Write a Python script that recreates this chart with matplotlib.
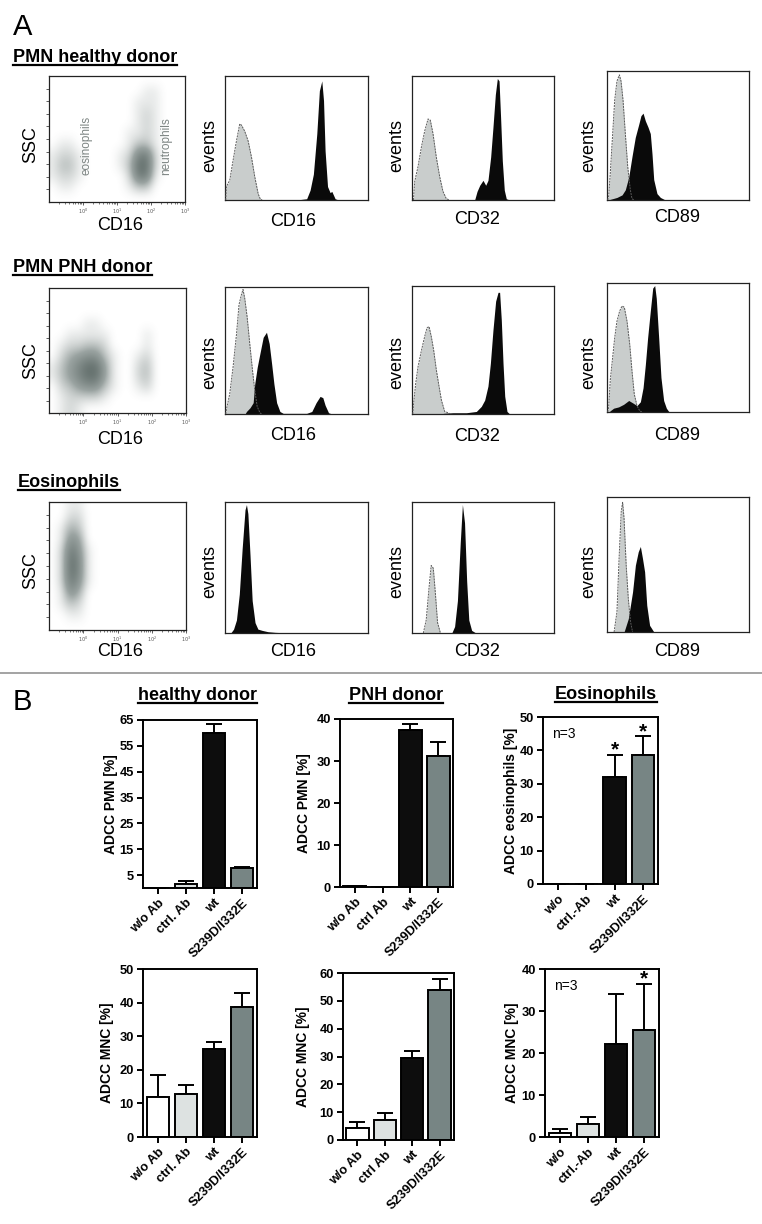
import matplotlib
matplotlib.use('Agg')
import matplotlib.pyplot as plt
import numpy as np
from matplotlib.colors import LinearSegmentedColormap
from matplotlib.lines import Line2D

plt.rcParams['font.family'] = ['Liberation Sans', 'DejaVu Sans']

# ---------------- DATA ----------------
# Panel A: flow cytometry density grids (rows top->bottom, cols = quarter decades from 10^-1 to 10^3)
scatter_healthy = [
    [0, 0, 0, 0, 0, 0, 0, 0, 0, 0, 0, 0, 0, 0, 0, 0],
    [0, 0, 0, 0, 0, 0, 0, 0, 0, 0, 0, 1, 1, 0, 0, 0],
    [0, 0, 0, 0, 0, 0, 0, 0, 0, 0, 1, 1, 1, 0, 0, 0],
    [0, 0, 0, 0, 0, 0, 0, 0, 0, 0, 1, 2, 1, 0, 0, 0],
    [0, 0, 0, 0, 0, 0, 0, 0, 0, 0, 1, 2, 1, 0, 0, 0],
    [0, 0, 0, 0, 0, 0, 0, 0, 0, 1, 1, 2, 1, 0, 0, 0],
    [0, 1, 1, 0, 0, 0, 0, 0, 0, 1, 3, 3, 1, 0, 0, 0],
    [1, 2, 2, 1, 0, 0, 0, 0, 1, 2, 7, 8, 2, 0, 0, 0],
    [1, 3, 3, 1, 0, 0, 0, 0, 1, 3, 9, 9, 2, 0, 0, 0],
    [1, 2, 2, 1, 0, 0, 0, 0, 0, 2, 8, 8, 1, 0, 0, 0],
    [0, 1, 1, 0, 0, 0, 0, 0, 0, 1, 3, 3, 0, 0, 0, 0],
    [0, 0, 0, 0, 0, 0, 0, 0, 0, 0, 0, 0, 0, 0, 0, 0],
]
scatter_pnh = [
    [0, 0, 0, 0, 0, 0, 0, 0, 0, 0, 0, 0, 0, 0, 0, 0],
    [0, 0, 0, 0, 0, 0, 0, 0, 0, 0, 0, 0, 0, 0, 0, 0],
    [0, 0, 0, 0, 0, 0, 0, 0, 0, 0, 0, 0, 0, 0, 0, 0],
    [0, 0, 0, 0, 1, 1, 0, 0, 0, 0, 0, 0, 0, 0, 0, 0],
    [0, 0, 1, 1, 1, 1, 1, 0, 0, 0, 0, 1, 0, 0, 0, 0],
    [0, 1, 2, 2, 3, 3, 2, 0, 0, 0, 0, 1, 0, 0, 0, 0],
    [0, 2, 4, 5, 6, 6, 3, 1, 0, 0, 1, 2, 0, 0, 0, 0],
    [1, 3, 5, 7, 9, 9, 5, 1, 0, 0, 2, 3, 0, 0, 0, 0],
    [1, 3, 5, 7, 9, 9, 5, 1, 0, 0, 2, 3, 0, 0, 0, 0],
    [0, 2, 3, 5, 6, 6, 3, 1, 0, 0, 1, 2, 0, 0, 0, 0],
    [0, 1, 2, 2, 2, 2, 1, 0, 0, 0, 0, 0, 0, 0, 0, 0],
    [0, 1, 2, 1, 0, 0, 0, 0, 0, 0, 0, 0, 0, 0, 0, 0],
]
scatter_eos = [
    [0, 0, 1, 1, 0, 0, 0, 0, 0, 0, 0, 0, 0, 0, 0, 0],
    [0, 0, 2, 2, 0, 0, 0, 0, 0, 0, 0, 0, 0, 0, 0, 0],
    [0, 1, 4, 3, 0, 0, 0, 0, 0, 0, 0, 0, 0, 0, 0, 0],
    [0, 1, 6, 5, 0, 0, 0, 0, 0, 0, 0, 0, 0, 0, 0, 0],
    [0, 2, 8, 6, 1, 0, 0, 0, 0, 0, 0, 0, 0, 0, 0, 0],
    [0, 2, 9, 7, 1, 0, 0, 0, 0, 0, 0, 0, 0, 0, 0, 0],
    [0, 2, 9, 7, 1, 0, 0, 0, 0, 0, 0, 0, 0, 0, 0, 0],
    [0, 2, 8, 6, 1, 0, 0, 0, 0, 0, 0, 0, 0, 0, 0, 0],
    [0, 1, 6, 4, 0, 0, 0, 0, 0, 0, 0, 0, 0, 0, 0, 0],
    [0, 1, 3, 2, 0, 0, 0, 0, 0, 0, 0, 0, 0, 0, 0, 0],
    [0, 0, 1, 1, 0, 0, 0, 0, 0, 0, 0, 0, 0, 0, 0, 0],
    [0, 0, 0, 0, 0, 0, 0, 0, 0, 0, 0, 0, 0, 0, 0, 0],
]

# Histograms: x = % of axis width, y = % of axis height
# Row 1 (healthy donor)
h1_cd16_iso_x = [0.5, 1, 3.3, 5.6, 8, 10.3, 11.5, 13.8, 16.2, 18.5, 20.8, 23.2, 24.8, 26]
h1_cd16_iso_y = [0, 11, 16, 32, 48, 62, 61, 56, 48, 35, 19, 5, 0.5, 0]
h1_cd16_x = [50, 57.1, 59.5, 61.8, 64.2, 66, 67.7, 68.9, 70, 71.7, 73.5, 74.7, 77, 79.4]
h1_cd16_y = [0, 1, 8, 21, 54, 89, 97, 81, 40, 11, 6, 7, 1, 0]
h1_cd32_iso_x = [1, 1.9, 4.2, 6.6, 8.9, 11.3, 12.9, 14.8, 17.1, 19.5, 21.8, 24.2, 26.5]
h1_cd32_iso_y = [0, 15, 27, 43, 56, 66, 65, 54, 35, 19, 7, 1, 0]
h1_cd32_x = [44.1, 45.8, 47.7, 50, 51.9, 53.5, 55.4, 57, 58.7, 60.1, 61.3, 62.4, 63.6, 65, 66.4, 68.8]
h1_cd32_y = [0, 7, 12, 16, 12, 16, 35, 59, 86, 99, 97, 67, 32, 8, 1, 0]
h1_cd89_iso_x = [0.5, 1.2, 2.3, 4, 5.4, 7, 8.7, 9.9, 11.3, 12.9, 14.6, 16.4, 17.6, 19]
h1_cd89_iso_y = [0, 3, 21, 52, 78, 93, 98, 93, 78, 52, 26, 8, 1, 0]
h1_cd89_x = [1, 2.3, 7, 10.6, 12.9, 15.3, 17.6, 19.9, 22.3, 23.9, 25.4, 27, 28.9, 30.5, 31.7, 32.9, 35.2, 37.6, 41.1]
h1_cd89_y = [0, 0.5, 2, 4, 8, 18, 34, 49, 59, 66, 68, 62, 57, 52, 36, 16, 5, 2, 0]
# Row 2 (PNH donor)
h2_cd16_iso_x = [0.5, 0.9, 3.3, 5.6, 8, 9.8, 11.5, 12.6, 13.8, 15.5, 17.3, 19.2, 20.8, 22.5, 24.4, 25.5]
h2_cd16_iso_y = [0, 3, 16, 37, 63, 87, 95, 99, 92, 77, 56, 35, 19, 6, 1, 0]
h2_cd16_x = [14, 15, 17.5, 19.7, 20.8, 22.5, 24.4, 26.7, 29, 30.9, 32.6, 34.2, 36.1, 38.4, 40.7,
             57.1, 60.7, 63.7, 66.5, 68.4, 70, 72.4, 74.7]
h2_cd16_y = [0, 2, 5, 9, 24, 37, 48, 61, 65, 56, 40, 24, 9, 2, 0.5,
             0.5, 2, 9, 14, 13, 7, 1, 0]
h2_cd32_iso_x = [0.5, 1.2, 2.6, 4.2, 6.6, 8.9, 10.6, 12, 13.6, 15.3, 17.1, 19, 20.7, 23, 25.4, 27]
h2_cd32_iso_y = [0, 9, 24, 37, 50, 61, 68, 69, 61, 50, 35, 22, 11, 2, 1, 0]
h2_cd32_x = [22, 28.9, 38.3, 45.3, 48.8, 51.2, 53.5, 55.2, 57, 58.9, 60.6, 61.7, 62.9, 64.1, 65.3, 66.9, 68.8]
h2_cd32_y = [0.5, 1, 1, 2, 6, 11, 22, 40, 66, 89, 96, 96, 74, 40, 14, 2, 0]
h2_cd89_iso_x = [0.5, 1.2, 2.3, 4, 5.4, 7, 8.9, 10.6, 12.2, 14.1, 16, 17.6, 19.2, 21.1, 23, 24.5]
h2_cd89_iso_y = [0, 4, 25, 43, 58, 71, 79, 83, 82, 71, 53, 32, 14, 5, 1, 0]
h2_cd89_x = [1.5, 2.3, 4.7, 8.2, 11.7, 15.3, 18.3, 21.1, 23.5, 25.4, 27, 28.6, 30.5, 32.2, 33.6, 34.7,
             36.4, 38, 39.9, 41.8, 43.4, 45.8]
h2_cd89_y = [0, 1, 3, 4, 6, 9, 7, 5, 8, 19, 37, 58, 79, 97, 99, 89, 58, 27, 9, 3, 0.5, 0]
# Row 3 (eosinophils)
h3_cd16_x = [4, 6, 8, 10, 12, 14, 15, 16, 17.5, 19, 21, 23, 26, 30, 35, 45]
h3_cd16_y = [0, 3, 10, 30, 65, 95, 99, 92, 60, 25, 8, 3, 2, 1, 0.5, 0]
h3_cd32_iso_x = [8, 10, 12, 13.5, 15, 16.5, 18, 20]
h3_cd32_iso_y = [0, 10, 35, 52, 50, 30, 8, 0]
h3_cd32_x = [28, 30, 32, 34, 35.5, 37, 38.5, 40, 42, 45]
h3_cd32_y = [0, 5, 25, 70, 99, 85, 40, 10, 2, 0]
h3_cd89_iso_x = [5, 7, 8.5, 10, 11, 12, 13.5, 15, 16.5, 18]
h3_cd89_iso_y = [0, 15, 55, 90, 97, 85, 50, 25, 8, 0]
h3_cd89_x = [12, 15, 18, 20, 22, 23.5, 25, 26.5, 28, 30, 33]
h3_cd89_y = [0, 10, 30, 50, 60, 64, 55, 45, 20, 5, 0]

# Panel B: ADCC bars
labels_hd = ['w/o Ab', 'ctrl. Ab', 'wt', 'S239D/I332E']
labels_pnh = ['w/o Ab', 'ctrl Ab', 'wt', 'S239D/I332E']
labels_eos = ['w/o', 'ctrl.-Ab', 'wt', 'S239D/I332E']
pmn_hd = [0, 1.7, 60.0, 7.8]
pmn_hd_err = [0, 0.9, 3.6, 0.4]
pmn_pnh = [0.2, 0, 37.3, 31.3]
pmn_pnh_err = [0.1, 0, 1.6, 3.2]
pmn_eos = [0, 0, 32.1, 38.6]
pmn_eos_err = [0, 0, 6.5, 5.6]
mnc_hd = [12.0, 12.9, 26.1, 38.6]
mnc_hd_err = [6.6, 2.5, 2.2, 4.4]
mnc_pnh = [4.2, 7.2, 29.4, 53.8]
mnc_pnh_err = [2.3, 2.4, 2.4, 4.0]
mnc_eos = [0.95, 3.0, 22.1, 25.4]
mnc_eos_err = [1.0, 1.8, 11.9, 11.0]

bar_colors = ['#ffffff', '#dde2e1', '#0d0d0d', '#778584']

# ---------------- FIGURE ----------------
W, H = 762, 1224
fig = plt.figure(figsize=(W / 100, H / 100), dpi=100)


def add_ax(l, t, r, b):
    return fig.add_axes([l / W, 1 - b / H, (r - l) / W, (b - t) / H])


def ftext(x, y, s, **kw):
    return fig.text(x / W, 1 - y / H, s, **kw)


underlined = []


def title_u(x, y_base, s, ha='left', size=13):
    t = ftext(x, y_base, s, ha=ha, va='baseline', fontsize=size, fontweight='bold')
    underlined.append((t, y_base + 2.5))
    return t


dens_cmap = LinearSegmentedColormap.from_list('dens', ['#ffffff', '#9aa3a1', '#66726f'])


def scatter_panel(ax, grid):
    ax.imshow(np.array(grid, dtype=float), cmap=dens_cmap, vmin=0, vmax=9,
              extent=[-1, 3, 0, 100], aspect='auto', interpolation='bicubic', origin='upper')
    ax.set_xlim(-1, 3)
    ax.set_ylim(0, 100)
    ax.set_xticks([0, 1, 2, 3])
    ax.set_xticklabels([r'$10^0$', r'$10^1$', r'$10^2$', r'$10^3$'], fontsize=3.5, color='#555555')
    minor = [np.log10(k) + d for d in range(-1, 3) for k in range(2, 10)]
    ax.set_xticks(minor, minor=True)
    ax.set_yticks(np.arange(10, 100, 10))
    ax.set_yticklabels([])
    ax.tick_params(which='major', direction='out', length=2.5, width=0.6, color='#444444', pad=1)
    ax.tick_params(which='minor', direction='out', length=1.5, width=0.5, color='#444444')
    for s in ax.spines.values():
        s.set_linewidth(0.9)
        s.set_color('#222222')


def hist_panel(ax, iso_x, iso_y, x, y):
    if iso_x is not None:
        ax.fill_between(iso_x, iso_y, 0, color='#c9cdcc', lw=0, zorder=1)
    ax.fill_between(x, y, 0, color='#0a0a0a', lw=0, zorder=2)
    if iso_x is not None:
        ax.plot(iso_x, iso_y, color='#5a5a5a', lw=0.7, ls=(0, (2, 1)), zorder=3)
    ax.set_xlim(0, 100)
    ax.set_ylim(0, 101)
    ax.set_xticks([])
    ax.set_yticks([])
    for s in ax.spines.values():
        s.set_linewidth(0.9)
        s.set_color('#222222')


# Panel A labels
ftext(13, 35, 'A', fontsize=21, va='baseline', ha='left')
title_u(13, 62, 'PMN healthy donor')
title_u(13, 272, 'PMN PNH donor')
title_u(18, 487, 'Eosinophils')

rows = [
    dict(sc=(49, 76, 185, 202), h=[(225, 76, 368, 200), (412, 76, 554, 200), (607, 71, 749, 200)],
         grid=scatter_healthy,
         hist=[(h1_cd16_iso_x, h1_cd16_iso_y, h1_cd16_x, h1_cd16_y),
               (h1_cd32_iso_x, h1_cd32_iso_y, h1_cd32_x, h1_cd32_y),
               (h1_cd89_iso_x, h1_cd89_iso_y, h1_cd89_x, h1_cd89_y)],
         lab_y=[225, 221, 220, 217], ylab_y=145),
    dict(sc=(49, 288, 186, 413), h=[(225, 287, 368, 414), (412, 286, 554, 414), (607, 283, 749, 412)],
         grid=scatter_pnh,
         hist=[(h2_cd16_iso_x, h2_cd16_iso_y, h2_cd16_x, h2_cd16_y),
               (h2_cd32_iso_x, h2_cd32_iso_y, h2_cd32_x, h2_cd32_y),
               (h2_cd89_iso_x, h2_cd89_iso_y, h2_cd89_x, h2_cd89_y)],
         lab_y=[439, 435, 436, 435], ylab_y=361),
    dict(sc=(49, 502, 186, 630), h=[(225, 502, 368, 633), (412, 502, 554, 633), (607, 497, 749, 632)],
         grid=scatter_eos,
         hist=[(None, None, h3_cd16_x, h3_cd16_y),
               (h3_cd32_iso_x, h3_cd32_iso_y, h3_cd32_x, h3_cd32_y),
               (h3_cd89_iso_x, h3_cd89_iso_y, h3_cd89_x, h3_cd89_y)],
         lab_y=[652, 652, 651, 651], ylab_y=571),
]
hist_names = ['CD16', 'CD32', 'CD89']
hist_lab_x = [293, 477, 677]
hist_ev_x = [210, 397, 589]

for i, r in enumerate(rows):
    ax = add_ax(*r['sc'])
    scatter_panel(ax, r['grid'])
    if i == 0:
        ax.text(0.09, 45, 'eosinophils', rotation=90, ha='center', va='center', fontsize=8.5, color='#7d8583')
        ax.text(2.44, 44, 'neutrophils', rotation=90, ha='center', va='center', fontsize=8.5, color='#7d8583')
    ftext(31, r['ylab_y'], 'SSC', rotation=90, ha='center', va='center', fontsize=13)
    ftext(120, r['lab_y'][0], 'CD16', ha='center', va='center', fontsize=13)
    for j in range(3):
        hax = add_ax(*r['h'][j])
        hist_panel(hax, *r['hist'][j])
        ftext(hist_ev_x[j], r['ylab_y'] + 1, 'events', rotation=90, ha='center', va='center', fontsize=13)
        ftext(hist_lab_x[j], r['lab_y'][j + 1], hist_names[j], ha='center', va='center', fontsize=13)

# separator
fig.add_artist(Line2D([0, 1], [1 - 673 / H] * 2, transform=fig.transFigure, color='#8a8a8a', lw=1.1))

# Panel B
ftext(13, 710, 'B', fontsize=21, va='baseline', ha='left')
title_u(197, 700, 'healthy donor', ha='center')
title_u(396, 700, 'PNH donor', ha='center')
title_u(606, 699, 'Eosinophils', ha='center')


def bar_panel(box, labels, vals, errs, ylim, yticks, ylabel, ylab_x, n3=False, stars=()):
    ax = add_ax(*box)
    x = np.arange(len(vals))
    ax.errorbar(x, vals, yerr=[np.zeros(len(vals)), errs], fmt='none', ecolor='black',
                elinewidth=1.4, capsize=5.5, capthick=1.4, zorder=1)
    ax.bar(x, vals, width=0.81, color=bar_colors, edgecolor='black', linewidth=1.4, zorder=2)
    ax.set_xlim(-0.53, 3.53)
    ax.set_ylim(*ylim)
    ax.set_yticks(yticks)
    ax.set_xticks(x)
    ax.set_xticklabels(labels, rotation=45, ha='right', rotation_mode='anchor')
    ax.tick_params(axis='both', direction='out', length=4.5, width=1.4, labelsize=9.3, pad=2)
    for lbl in ax.get_xticklabels() + ax.get_yticklabels():
        lbl.set_fontweight('bold')
    for s in ax.spines.values():
        s.set_linewidth(1.4)
    l, t, rr, b = box
    ax.set_ylabel(ylabel, fontsize=10, fontweight='bold')
    ax.yaxis.label.set_verticalalignment('center')
    ax.yaxis.set_label_coords((ylab_x - l) / (rr - l), 0.5)
    if n3:
        ax.text(0.08, 0.94, 'n=3', transform=ax.transAxes, ha='left', va='top', fontsize=10)
    for k in stars:
        ax.annotate('*', xy=(k, vals[k] + errs[k]), xytext=(0, -0.5), textcoords='offset points',
                    ha='center', va='baseline', fontsize=15, fontweight='bold')
    return ax


bar_panel((143, 720, 257, 888), labels_hd, pmn_hd, pmn_hd_err, (0, 65), [5, 15, 25, 35, 45, 55, 65],
          'ADCC PMN [%]', 111)
bar_panel((340, 719, 453, 887), labels_pnh, pmn_pnh, pmn_pnh_err, (0, 40), [0, 10, 20, 30, 40],
          'ADCC PMN [%]', 304)
bar_panel((543, 717, 658, 884), labels_eos, pmn_eos, pmn_eos_err, (0, 50), [0, 10, 20, 30, 40, 50],
          'ADCC eosinophils [%]', 511, n3=True, stars=(2, 3))
bar_panel((143, 969, 257, 1137), labels_hd, mnc_hd, mnc_hd_err, (0, 50), [0, 10, 20, 30, 40, 50],
          'ADCC MNC [%]', 107)
bar_panel((343, 973, 454, 1140), labels_pnh, mnc_pnh, mnc_pnh_err, (0, 60), [0, 10, 20, 30, 40, 50, 60],
          'ADCC MNC [%]', 303)
bar_panel((545, 969, 659, 1137), labels_eos, mnc_eos, mnc_eos_err, (0, 40), [0, 10, 20, 30, 40],
          'ADCC MNC [%]', 512, n3=True, stars=(3,))

# underlines
fig.canvas.draw()
for t, yb in underlined:
    bb = t.get_window_extent()
    fig.add_artist(Line2D([bb.x0 / W, bb.x1 / W], [1 - yb / H] * 2, transform=fig.transFigure,
                          color='black', lw=1.6))

fig.savefig('out.png', dpi=100)
